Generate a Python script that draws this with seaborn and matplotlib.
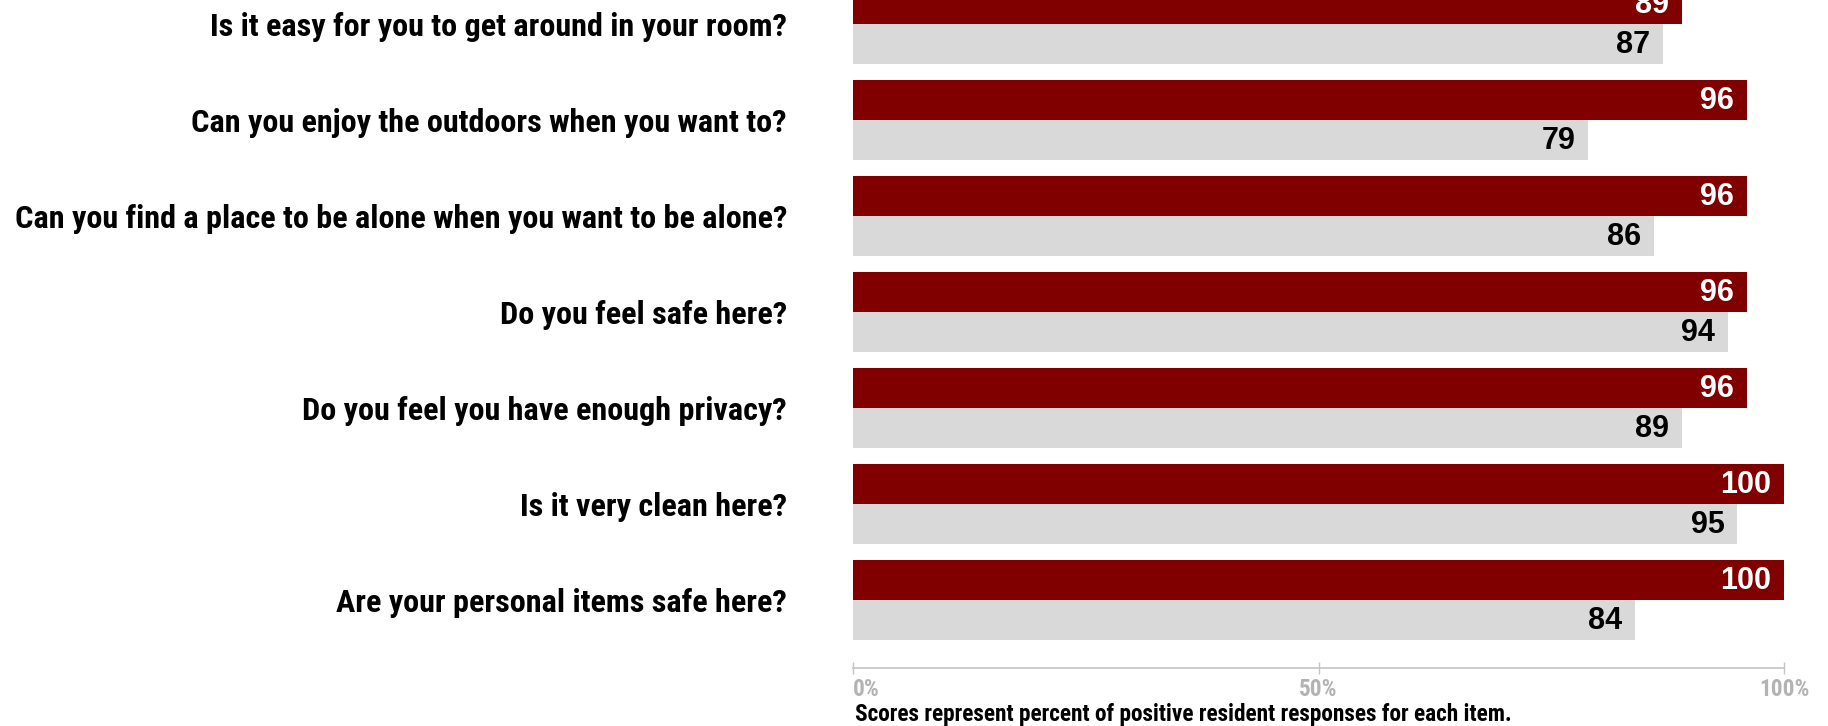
import matplotlib
matplotlib.use("Agg")
import matplotlib.pyplot as plt
from matplotlib import font_manager as fm
import pandas as pd
import seaborn as sns

# Survey items, top to bottom
questions = [
    "Is it easy for you to get around in your room?",
    "Can you enjoy the outdoors when you want to?",
    "Can you find a place to be alone when you want to be alone?",
    "Do you feel safe here?",
    "Do you feel you have enough privacy?",
    "Is it very clean here?",
    "Are your personal items safe here?",
]
facility_scores = [89, 96, 96, 96, 96, 100, 100]
comparison_scores = [87, 79, 86, 94, 89, 95, 84]
series_names = ["Facility", "Comparison"]
tick_values = [0, 50, 100]
tick_labels = ["0%", "50%", "100%"]
footnote = "Scores represent percent of positive resident responses for each item."

RED = "#800000"
GREY = "#d9d9d9"

sns.set_style("white")

installed = {f.name for f in fm.fontManager.ttflist}
narrow = next((n for n in ["Liberation Sans Narrow", "Roboto Condensed",
                           "Open Sans Condensed", "DejaVu Sans Condensed"]
               if n in installed), "Liberation Sans")
plt.rcParams["font.family"] = [narrow, "DejaVu Sans"]
value_font = "Liberation Sans" if "Liberation Sans" in installed else "DejaVu Sans"

df = pd.DataFrame({
    "question": questions * 2,
    "score": facility_scores + comparison_scores,
    "series": [series_names[0]] * len(questions) + [series_names[1]] * len(questions),
})

W, H, DPI = 1828, 726, 100
fig = plt.figure(figsize=(W / DPI, H / DPI), dpi=DPI)
ax = fig.add_axes([853 / W, 1 - 668 / H, (1784 - 853) / W, 668 / H])

sns.barplot(data=df, y="question", x="score", hue="series", orient="h",
            palette=[RED, GREY], width=0.83, gap=0, saturation=1,
            order=questions, hue_order=series_names, legend=False, ax=ax,
            linewidth=0, err_kws={"linewidth": 0})

ax.set_xlim(0, 100)
ax.set_ylim(len(questions) - 1 + 0.704, -0.249)
ax.set_xlabel("")
ax.set_ylabel("")

for side in ["top", "right", "left"]:
    ax.spines[side].set_visible(False)
ax.spines["bottom"].set_color("#c4c4c4")
ax.spines["bottom"].set_linewidth(1.2)

ax.set_xticks(tick_values)
ax.set_xticklabels(tick_labels)
ax.tick_params(axis="x", bottom=True, direction="inout", length=9, width=1.0,
               color="#c4c4c4", pad=3, labelsize=16, labelcolor="#b3b3b3")
for t in ax.get_xticklabels():
    t.set_fontweight("bold")
ax.get_xticklabels()[0].set_horizontalalignment("left")

ax.tick_params(axis="y", left=False, length=0, pad=47.5, labelsize=21)
for t in ax.get_yticklabels():
    t.set_fontweight("bold")
    t.set_color("black")

# Value labels inside the bar ends
text_colors = ["white", "black"]
for container, color in zip(ax.containers, text_colors):
    for patch in container:
        w = patch.get_width()
        y = patch.get_y() + patch.get_height() / 2
        ax.annotate(f"{w:.0f}", xy=(w, y), xytext=(-13, -1),
                    textcoords="offset pixels", ha="right", va="center",
                    color=color, fontsize=22, fontweight="bold",
                    family=value_font, annotation_clip=False)

note = fig.text(855 / W, 1 - 715 / H, footnote, ha="left", va="center",
                fontsize=16, fontweight="bold", color="black")

# Fit label widths to the intended lengths
fig.canvas.draw()
r = fig.canvas.get_renderer()
longest = max(ax.get_yticklabels(), key=lambda t: t.get_window_extent(r).width)
scale = 775 / longest.get_window_extent(r).width
for t in ax.get_yticklabels():
    t.set_fontsize(21 * scale)
nscale = 657 / note.get_window_extent(r).width
note.set_fontsize(16 * nscale)
tl = ax.get_xticklabels()[-1]
tscale = 50 / tl.get_window_extent(r).width
ax.tick_params(axis="x", labelsize=16 * tscale)

fig.savefig("out.png", dpi=DPI)
